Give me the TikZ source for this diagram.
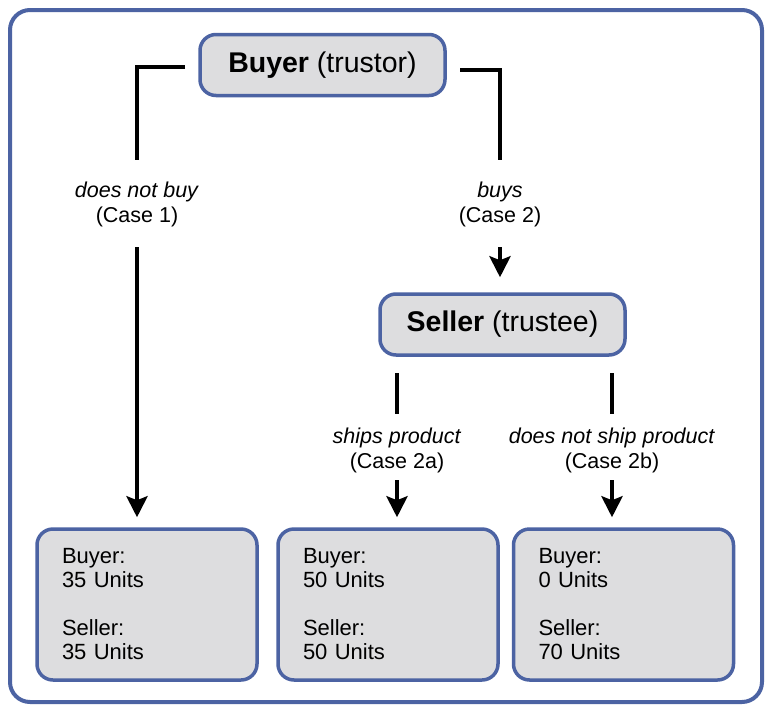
\documentclass[tikz,border=0pt]{standalone}
\usepackage{fontspec}
\setmainfont{Liberation Sans}
\usetikzlibrary{arrows.meta}
\definecolor{frameblue}{RGB}{76,99,163}
\definecolor{boxgray}{RGB}{221,221,223}
\begin{document}
\begin{tikzpicture}[x=1pt,y=-1pt,
  frame/.style={draw=frameblue, line width=4pt, rounded corners=20pt},
  rbox/.style={draw=frameblue, fill=boxgray, line width=3.5pt, rounded corners=16pt},
  head/.style={rbox, minimum width=245pt, minimum height=61pt, font=\fontsize{28.5}{34}\selectfont, inner sep=0pt},
  result/.style={rbox, minimum width=220pt, minimum height=151pt, text width=170pt, align=left, font=\fontsize{22}{24}\selectfont, inner sep=0pt},
  lab/.style={align=center, font=\fontsize{21.5}{25}\selectfont, inner sep=0pt},
  conn/.style={line width=4.5pt},
  arr/.style={conn, -{Stealth[length=21pt,width=21pt,inset=4pt]}}]
\useasboundingbox (0,0) rectangle (772,713);
\draw[frame] (10,10) rectangle (762,702);

\node[head] (buyer) at (322.5,65) {\textbf{Buyer} (trustor)};
\node[head] (seller) at (502.5,324.5) {\textbf{Seller} (trustee)};

\node[result] (box1) at (147,604.5) {Buyer:\\35 Units\\[24pt]Seller:\\35 Units};
\node[result] (box2) at (388,604.5) {Buyer:\\50 Units\\[24pt]Seller:\\50 Units};
\node[result] (box3) at (623.5,604.5) {Buyer:\\0 Units\\[24pt]Seller:\\70 Units};

\node[lab] (lab1) at (137,204) {\textit{does not buy}\\(Case 1)};
\node[lab] (lab2) at (500,204) {\textit{buys}\\(Case 2)};
\node[lab] (lab2a) at (397,450) {\textit{ships product}\\(Case 2a)};
\node[lab] (lab2b) at (612,450) {\textit{does not ship product}\\(Case 2b)};

% Buyer -> does not buy
\coordinate (c1a) at (185,67);
\coordinate (c1b) at (137,160);
\coordinate (c1c) at (137,247);
\draw[conn] (c1a) -| (c1b);
\draw[arr, shorten >=10pt] (c1c) -- (c1c |- box1.north);

% Buyer -> buys
\coordinate (c2a) at (460,70);
\coordinate (c2b) at (500,160);
\coordinate (c2c) at (500,247);
\draw[conn] (c2a) -| (c2b);
\draw[arr, shorten >=15pt] (c2c) -- (c2c |- seller.north);

% Seller -> ships product
\coordinate (c3a) at (397,373);
\coordinate (c3b) at (397,414);
\coordinate (c3c) at (397,480);
\draw[conn] (c3a) -- (c3b);
\draw[arr, shorten >=10pt] (c3c) -- (c3c |- box2.north);

% Seller -> does not ship product
\coordinate (c4a) at (612,373);
\coordinate (c4b) at (612,414);
\coordinate (c4c) at (612,480);
\draw[conn] (c4a) -- (c4b);
\draw[arr, shorten >=10pt] (c4c) -- (c4c |- box3.north);
\end{tikzpicture}
\end{document}
